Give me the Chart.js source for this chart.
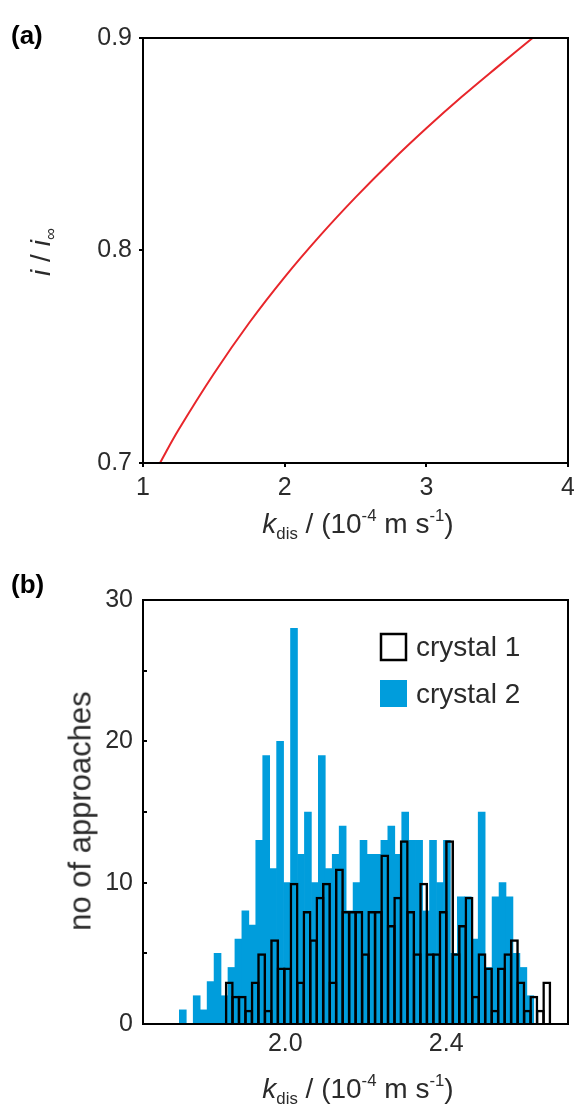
<!DOCTYPE html>
<html>
<head>
<meta charset="utf-8">
<script src="https://cdn.jsdelivr.net/npm/chart.js@4.4.1/dist/chart.umd.min.js"></script>
<style>
  html, body { margin: 0; padding: 0; background: #fff; }
  body {
    width: 574px; height: 1109px; position: relative; overflow: hidden;
    font-family: "Liberation Sans", Arial, sans-serif; color: #2b2b2b;
  }
  canvas { position: absolute; left: 0; }
  #chartA { top: 0; }
  #chartB { top: 540px; }
  .lbl { position: absolute; white-space: nowrap; line-height: 1; }
  .panel { font-weight: bold; font-size: 26px; color: #000; }
  .title { font-size: 28px; transform: translate(-50%, -50%); }
  .title.rot { transform: translate(-50%, -50%) rotate(-90deg); }
  .big { font-size: 31px; }
  sub, sup { font-size: 60%; line-height: 0; }
  sub { vertical-align: -0.35em; }
  sup { vertical-align: 0.7em; }
</style>
</head>
<body>
<canvas id="chartA" width="574" height="540"></canvas>
<canvas id="chartB" width="574" height="569"></canvas>

<div class="lbl panel" style="left:11px; top:22px">(a)</div>
<div class="lbl panel" style="left:11px; top:571px">(b)</div>
<div class="lbl title rot" style="left:41px; top:252px"><i>i</i> / <i>i</i><sub>∞</sub></div>
<div class="lbl title" style="left:358px; top:524px"><i>k</i><sub>dis</sub> / (10<sup>-4</sup> m s<sup>-1</sup>)</div>
<div class="lbl title rot big" style="left:80px; top:811px">no of approaches</div>
<div class="lbl title" style="left:358px; top:1089px"><i>k</i><sub>dis</sub> / (10<sup>-4</sup> m s<sup>-1</sup>)</div>

<script>
// (a) i / i_inf against k_dis
const kdis = [1.12, 1.25, 1.5, 1.75, 2.0, 2.25, 2.5, 2.75, 3.0, 3.25, 3.5, 3.75];
const iRatio = [0.700, 0.7155, 0.742, 0.766, 0.7875, 0.807, 0.825, 0.8418, 0.8575, 0.8723, 0.8863, 0.900];
const kTicksA = [1, 2, 3, 4];
const iTicksA = [0.7, 0.8, 0.9];

// (b) histograms of k_dis, number of approaches per bin
const crystal1Counts = [3, 2, 2, 1, 3, 5, 1, 6, 4, 4, 10, 3, 8, 6, 9, 10, 3, 11, 8, 8,
  8, 5, 8, 8, 12, 7, 9, 13, 8, 5, 10, 5, 5, 8, 13, 5, 7, 9, 2, 5,
  4, 1, 4, 5, 6, 3, 1, 2, 1, 3];
const crystal1BinStart = 1.8526;
const crystal1BinWidth = 0.01611;

const crystal2Counts = [1, 0, 2, 1, 3, 5, 2, 4, 6, 8, 7, 13, 19, 11, 20, 10, 28, 12, 15, 10,
  19, 11, 12, 14, 8, 10, 13, 12, 12, 13, 14, 12, 15, 13, 13, 8, 13, 10, 13, 5,
  9, 9, 6, 15, 4, 9, 10, 9, 5, 4, 2];
const crystal2BinStart = 1.7365;
const crystal2BinWidth = 0.01728;

const kTicksB = [2.0, 2.4];
const kRangeB = [1.6462, 2.7028];

const FONT = "'Liberation Sans', Arial, sans-serif";
Chart.defaults.font.family = FONT;
Chart.defaults.color = '#2b2b2b';

const toBins = (start, width, counts) =>
  counts.map((c, n) => ({ x: start + (n + 0.5) * width, y: c }));

// box around the plot area
const frame = {
  id: 'frame',
  afterDatasetsDraw(chart) {
    const { ctx, chartArea: a } = chart;
    ctx.save();
    ctx.strokeStyle = '#000';
    ctx.lineWidth = 2;
    ctx.strokeRect(a.left, a.top, a.right - a.left, a.bottom - a.top);
    ctx.restore();
  }
};

// legend drawn inside the plot area, top right
const boxLegend = {
  id: 'boxLegend',
  afterDraw(chart) {
    const { ctx, chartArea: a } = chart;
    const x = a.left + 237;
    ctx.save();
    ctx.font = '28px ' + FONT;
    ctx.textBaseline = 'middle';
    chart.data.datasets.forEach((ds, n) => {
      const y = a.top + 33 + n * 47;
      if (ds.backgroundColor === 'rgba(0,0,0,0)') {
        ctx.strokeStyle = ds.borderColor;
        ctx.lineWidth = 2.5;
        ctx.strokeRect(x + 1, y + 1, 25, 26);
      } else {
        ctx.fillStyle = ds.backgroundColor;
        ctx.fillRect(x, y, 27, 27);
      }
      ctx.fillStyle = '#2b2b2b';
      ctx.fillText(ds.label, x + 36, y + 15);
    });
    ctx.restore();
  }
};

// keep the plot area edges fixed, whatever the tick labels need
const noSidePad = s => { s.paddingLeft = 0; s.paddingRight = 0; };

const tickFont = { size: 25, family: FONT };

new Chart(document.getElementById('chartA'), {
  type: 'line',
  data: {
    datasets: [{
      data: kdis.map((k, n) => ({ x: k, y: iRatio[n] })),
      borderColor: '#e8262b',
      borderWidth: 2,
      pointRadius: 0,
      tension: 0.4,
      fill: false
    }]
  },
  options: {
    responsive: false,
    animation: false,
    devicePixelRatio: 1,
    layout: { padding: { top: 38, right: 6, left: 0, bottom: 0 } },
    plugins: { legend: { display: false }, tooltip: { enabled: false } },
    scales: {
      x: {
        type: 'linear', min: 1, max: 4, offset: false,
        afterBuildTicks: s => { s.ticks = kTicksA.map(v => ({ value: v })); },
        afterFit: s => { s.height = 540 - 463; noSidePad(s); },
        grid: { drawOnChartArea: false, tickLength: 4, color: '#000', lineWidth: 2 },
        border: { color: '#000', width: 2 },
        ticks: { font: tickFont, padding: 6, maxRotation: 0, callback: v => String(v) }
      },
      y: {
        type: 'linear', min: 0.7, max: 0.9,
        afterBuildTicks: s => { s.ticks = iTicksA.map(v => ({ value: v })); },
        afterFit: s => { s.width = 143; },
        grid: { drawOnChartArea: false, tickLength: 4, color: '#000', lineWidth: 2 },
        border: { color: '#000', width: 2 },
        ticks: { font: tickFont, padding: 7, callback: v => v.toFixed(1) }
      }
    }
  },
  plugins: [frame]
});

new Chart(document.getElementById('chartB'), {
  type: 'bar',
  data: {
    datasets: [
      {
        label: 'crystal 1',
        data: toBins(crystal1BinStart, crystal1BinWidth, crystal1Counts),
        xAxisID: 'x2',
        backgroundColor: 'rgba(0,0,0,0)',
        borderColor: '#000',
        borderWidth: 2.5,
        borderSkipped: 'start',
        grouped: false,
        // wider than the bin so neighbouring outlines merge into one line
        barPercentage: 1.38,
        categoryPercentage: 1
      },
      {
        label: 'crystal 2',
        data: toBins(crystal2BinStart, crystal2BinWidth, crystal2Counts),
        xAxisID: 'x',
        backgroundColor: '#009ddc',
        borderWidth: 0,
        grouped: false,
        barPercentage: 1,
        categoryPercentage: 1
      }
    ]
  },
  options: {
    responsive: false,
    animation: false,
    devicePixelRatio: 1,
    layout: { padding: { top: 60, right: 6, left: 0, bottom: 0 } },
    plugins: { legend: { display: false }, tooltip: { enabled: false } },
    scales: {
      x: {
        type: 'linear', min: kRangeB[0], max: kRangeB[1], offset: false,
        afterBuildTicks: s => { s.ticks = kTicksB.map(v => ({ value: v })); },
        afterFit: s => { s.height = 569 - 484; noSidePad(s); },
        grid: { display: false, drawTicks: false },
        border: { color: '#000', width: 2 },
        ticks: { font: tickFont, padding: 5, maxRotation: 0, callback: v => v.toFixed(1) }
      },
      x2: {
        type: 'linear', min: kRangeB[0], max: kRangeB[1], offset: false, display: false
      },
      y: {
        type: 'linear', min: 0, max: 30,
        afterFit: s => { s.width = 143; },
        grid: { drawOnChartArea: false, tickLength: -4, color: '#000', lineWidth: 2 },
        border: { color: '#000', width: 2 },
        ticks: { font: tickFont, padding: 14, stepSize: 5, callback: v => (v % 10 === 0 ? v : '') }
      }
    }
  },
  plugins: [frame, boxLegend]
});
</script>
</body>
</html>
